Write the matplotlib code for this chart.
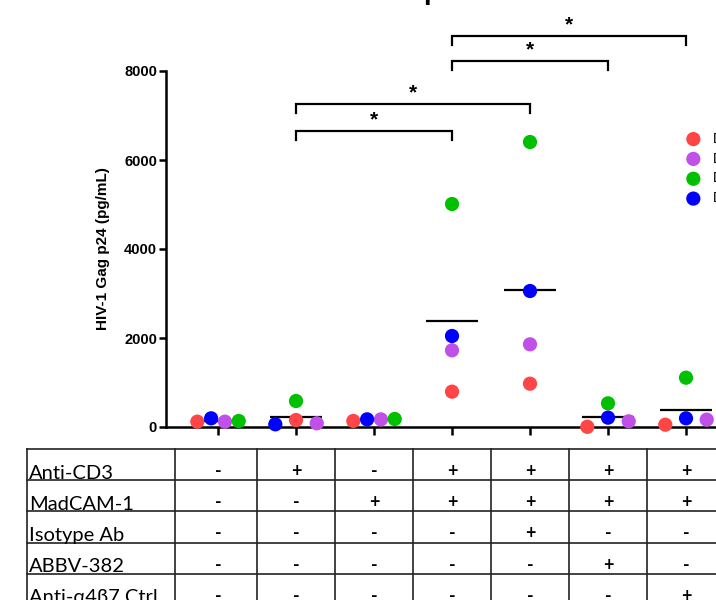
import matplotlib
matplotlib.use("Agg")
import matplotlib.pyplot as plt
import numpy as np

plt.rcParams["font.family"] = ["Liberation Sans", "DejaVu Sans"]

# donors (legend) and their colours
donors = ["Donor 1", "Donor 2", "Donor 3", "Donor 4"]
donor_colors = ["#ff4545", "#c050e8", "#00c000", "#0000ff"]

# HIV-1 Gag p24 (pg/mL), 7 conditions per donor
p24_d1 = [120, 157, 135, 794, 973, 5, 52]
p24_d2 = [120, 83, 172, 1723, 1858, 128, 165]
p24_d3 = [135, 584, 180, 5011, 6404, 532, 1108]
p24_d4 = [195, 60, 172, 2045, 3056, 210, 195]

# condition table
row_labels = ["Anti-CD3", "MadCAM-1", "Isotype Ab", "ABBV-382", "Anti-α4β7 Ctrl"]
table_signs = [
    ["-", "+", "-", "+", "+", "+", "+"],
    ["-", "-", "+", "+", "+", "+", "+"],
    ["-", "-", "-", "-", "+", "-", "-"],
    ["-", "-", "-", "-", "-", "+", "-"],
    ["-", "-", "-", "-", "-", "-", "+"],
]

# significance brackets: (from group, to group, height)
brackets = [(1, 3, 6650), (1, 4, 7260), (3, 5, 8225), (3, 6, 8790)]

# horizontal spread of the dots (in dot widths), layout only
spread = [
    [-1.5, 0, -1.5, 0, 0, -1.5, -1.5],
    [0.5, 1.5, 0.5, 0, 0, 1.5, 1.5],
    [1.5, 0, 1.5, 0, 0, 0, 0],
    [-0.5, -1.5, -0.5, 0, 0, 0, 0],
]
dot_w = 0.177

series = [p24_d1, p24_d2, p24_d3, p24_d4]
x = np.arange(len(p24_d1))

fig = plt.figure(figsize=(7.16, 6.0), dpi=100)
ax = fig.add_axes([166 / 716, 173 / 600, (748.4 - 166) / 716, 356 / 600])

handles = []
for vals, col, off, name in zip(series, donor_colors, spread, donors):
    h = ax.scatter(x + np.array(off) * dot_w, vals, s=105, color=col,
                   edgecolors="none", zorder=3, clip_on=False, label=name)
    handles.append(h)

# mean lines
means = np.mean(np.array(series), axis=0)
ax.hlines(means, x - 0.333, x + 0.333, color="black", lw=1.6, zorder=2)

ax.set_xlim(-0.667, 6.8)
ax.set_ylim(0, 8000)
ax.set_yticks([0, 2000, 4000, 6000, 8000])
ax.set_xticks(x)
ax.set_xticklabels([])
for s in ["top", "right"]:
    ax.spines[s].set_visible(False)
for s in ["left", "bottom"]:
    ax.spines[s].set_linewidth(1.8)
ax.tick_params(axis="y", width=1.8, length=5, labelsize=10.5, pad=1.5)
ax.tick_params(axis="x", width=1.8, length=6)
for lab in ax.get_yticklabels():
    lab.set_fontweight("bold")
ax.set_ylabel("HIV-1 Gag p24 (pg/mL)", fontsize=11, fontweight="bold", labelpad=10)

# brackets with stars
for a, b, h in brackets:
    ax.plot([a, a, b, b], [h - 200, h, h, h - 200], color="black", lw=1.6,
            clip_on=False, solid_joinstyle="miter")
    ax.text((a + b) / 2, h + 130, "*", ha="center", va="baseline",
            fontsize=15, fontweight="bold", clip_on=False)

ax.legend(handles=handles, loc="upper left", bbox_to_anchor=(0.884, 0.845),
          frameon=False, fontsize=10, handletextpad=0.95, labelspacing=0.42,
          borderaxespad=0, handlelength=1.0)

# title (only its descender is inside the crop)
fig.text(432 / 716, 1 + 1 / 600, "p", fontsize=20, fontweight="bold",
         ha="center", va="baseline")

# condition table
tx = fig.add_axes([27 / 716, -5 / 600, (748.4 - 27) / 716, 156 / 600])
tx.set_xlim(-2.449, 6.8)
tx.set_ylim(5, 0)
tx.axis("off")
for k in range(6):
    tx.plot([-2.449, 7.5], [k, k], color="#222222", lw=1.2, clip_on=False)
for xb in [-2.449, -0.551] + [i + 0.5 for i in range(6)]:
    tx.plot([xb, xb], [0, 5], color="#222222", lw=1.2, clip_on=False)
for k, (lab, signs) in enumerate(zip(row_labels, table_signs)):
    tx.text(-2.449 + 0.03, k + 0.95, lab, family=["Lato", "DejaVu Sans"],
            fontsize=14.5, ha="left", va="baseline")
    for i, sg in enumerate(signs):
        tx.text(i, k + 0.72, sg, family=["Lato", "DejaVu Sans"],
                fontsize=13, fontweight="bold", ha="center", va="center")

fig.savefig("out.png", dpi=100)
